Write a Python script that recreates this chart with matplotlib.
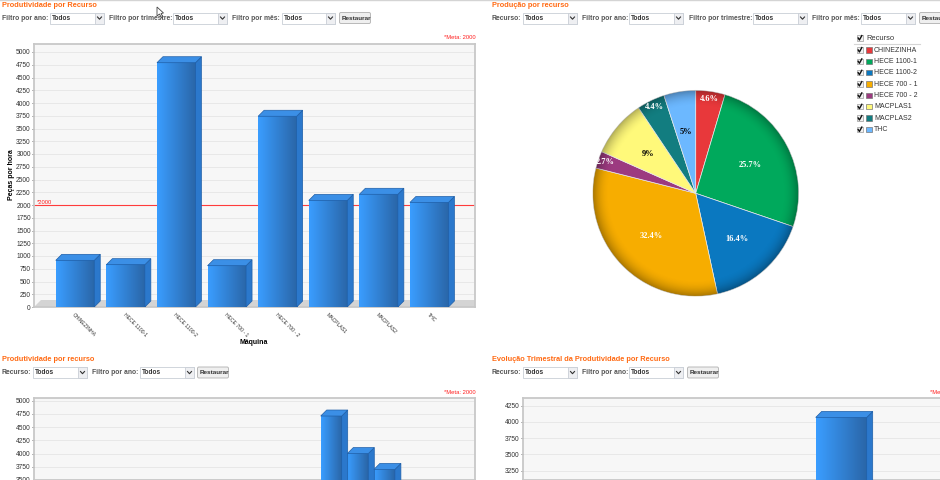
import matplotlib
matplotlib.use('Agg')
import matplotlib.pyplot as plt
import matplotlib.patches as patches
from matplotlib.colors import LinearSegmentedColormap
import numpy as np

plt.rcParams['font.family'] = ['Liberation Sans', 'DejaVu Sans']

W, H = 940, 480

# dados
maquinas = ['CHINEZINHA', 'HECE 1100-1', 'HECE 1100-2', 'HECE 700 - 1', 'HECE 700 - 2', 'MACPLAS1', 'MACPLAS2', 'THC']
produtividade = [915, 830, 4790, 810, 3740, 2090, 2210, 2050]
meta = 2000

recursos = ['CHINEZINHA', 'HECE 1100-1', 'HECE 1100-2', 'HECE 700 - 1', 'HECE 700 - 2', 'MACPLAS1', 'MACPLAS2', 'THC']
producao = [4.6, 25.7, 16.4, 32.4, 2.7, 9, 4.4, 5]
producao_labels = ['4.6%', '25.7%', '16.4%', '32.4%', '2.7%', '9%', '4.4%', '5%']
cores = ['#e8383b', '#00a95c', '#0a78c0', '#f7ad00', '#9c3a80', '#fff97a', '#127d80', '#6cb8ff']
cor_label = ['white', 'white', 'white', 'white', 'white', 'black', 'white', 'black']

prod_recurso = [4710, 4000, 3700]
evolucao = [4070]

GRAY = '#555555'
ORANGE = '#ff6a13'
grad = LinearSegmentedColormap.from_list('bar', ['#3a9dff', '#2a66a8'])


def px_axes(fig, x0, y0, x1, y1, **kw):
    """cria eixo a partir de pixels (origem no topo)"""
    return fig.add_axes([x0 / W, 1 - y1 / H, (x1 - x0) / W, (y1 - y0) / H], **kw)


def bars_3d(ax, xs, values, width, dpx=6, dpy=6):
    """barras com lateral e topo para simular 3D"""
    xlim = ax.get_xlim()
    ylim = ax.get_ylim()
    dx = dpx * (xlim[1] - xlim[0]) / ax.bbox.width
    dy = dpy * (ylim[1] - ylim[0]) / ax.bbox.height
    rects = ax.bar(xs, values, width=width, color='#3a8fe0', edgecolor='#1f5fa8', linewidth=0.6, zorder=3)
    for r in rects:
        x0 = r.get_x()
        x1 = x0 + r.get_width()
        v = r.get_height()
        ax.imshow(np.linspace(0, 1, 64).reshape(1, -1), cmap=grad, extent=(x0, x1, 0, v),
                  aspect='auto', zorder=3.1, interpolation='bilinear')
        ax.add_patch(patches.Polygon([(x1, 0), (x1 + dx, dy), (x1 + dx, v + dy), (x1, v)],
                                     facecolor='#2b78cc', edgecolor='#1f5fa8', lw=0.5, zorder=3.2))
        ax.add_patch(patches.Polygon([(x0, v), (x1, v), (x1 + dx, v + dy), (x0 + dx, v + dy)],
                                     facecolor='#3b8fe6', edgecolor='#1f5fa8', lw=0.5, zorder=3.2))
    ax.set_xlim(xlim)
    ax.set_ylim(ylim)


def style_plot(ax, ticks):
    ax.set_facecolor('#f7f7f7')
    for s in ax.spines.values():
        s.set_color('#c8c8c8')
        s.set_linewidth(1.3)
    ax.set_yticks(ticks)
    ax.tick_params(axis='y', labelsize=4.8, colors='#333333', length=1.5, pad=0.8, width=0.5)
    ax.grid(axis='y', color='#e6e6e6', lw=0.6, zorder=0)
    ax.set_axisbelow(True)


def select(ui, x0, x1, y):
    ui.add_patch(patches.Rectangle((x0, y - 5.5), x1 - x0, 11, facecolor='white', edgecolor='#c9ced6', lw=0.6))
    ui.add_patch(patches.Rectangle((x1 - 9, y - 5.5), 9, 11, facecolor='#eeeff2', edgecolor='#c9ced6', lw=0.6))
    ui.plot([x1 - 6.5, x1 - 4.5, x1 - 2.5], [y - 1, y + 1.2, y - 1], color='#333333', lw=0.8)
    ui.text(x0 + 2, y, 'Todos', fontsize=4.7, color='#333333', va='center', fontweight='bold')


def button(ui, x0, x1, y):
    ui.add_patch(patches.FancyBboxPatch((x0 + 1, y - 5), x1 - x0 - 2, 10, boxstyle='round,pad=0.5,rounding_size=1.5',
                                        facecolor='#efefef', edgecolor='#b9b9b9', lw=0.7))
    ui.text(x0 + 3, y, 'Restaurar', fontsize=4.6, color='#333333', va='center', fontweight='bold',
            clip_on=True)


def filtros(ui, y, itens, btn):
    for label, lx, sx0, sx1 in itens:
        ui.text(lx, y, label, fontsize=4.85, color=GRAY, va='center', fontweight='bold')
        select(ui, sx0, sx1, y)
    button(ui, btn[0], btn[1], y)


fig = plt.figure(figsize=(W / 100, H / 100), dpi=100, facecolor='white')

# camada de interface em pixels
ui = fig.add_axes([0, 0, 1, 1], zorder=5)
ui.set_xlim(0, W)
ui.set_ylim(H, 0)
ui.axis('off')
ui.patch.set_alpha(0)

ui.plot([0, W], [0.3, 0.3], color='#d4d4d4', lw=1)

ui.text(2, 5.5, 'Produtividade por Recurso', fontsize=5.35, color=ORANGE, fontweight='bold', va='center')
ui.text(492, 5.5, 'Produção por recurso', fontsize=5.35, color=ORANGE, fontweight='bold', va='center')
ui.text(2, 359.5, 'Produtividade por recurso', fontsize=5.35, color=ORANGE, fontweight='bold', va='center')
ui.text(492, 359.5, 'Evolução Trimestral da Produtividade por Recurso', fontsize=5.35, color=ORANGE, fontweight='bold', va='center')

filtros(ui, 18, [('Filtro por ano:', 2, 50, 104), ('Filtro por trimestre:', 109, 173, 227), ('Filtro por mês:', 232, 282, 335)], (339, 371))
filtros(ui, 18, [('Recurso:', 492, 523, 577), ('Filtro por ano:', 582, 629, 683), ('Filtro por trimestre:', 689, 753, 807), ('Filtro por mês:', 812, 861, 915)], (919, 952))
filtros(ui, 372.5, [('Recurso:', 2, 33, 87), ('Filtro por ano:', 92, 140, 194)], (197, 229))
filtros(ui, 372.5, [('Recurso:', 492, 523, 577), ('Filtro por ano:', 582, 629, 683)], (687, 719))

for x, y in [(443.5, 37.5), (443.5, 392), (930, 392)]:
    ui.text(x, y, '*Meta: 2000', fontsize=4.2, color='#ff2020', va='center')

# cursor do mouse
ui.add_patch(patches.Polygon([(157, 7), (157, 16), (159.5, 14), (161.5, 18), (163, 17), (161, 13.5), (163.5, 13)],
                             facecolor='white', edgecolor='#444444', lw=0.6))

# grafico 1 - produtividade por recurso
ax1 = px_axes(fig, 34, 44, 475, 307)
sp = 50.6
ax1.set_xlim((34 - 75) / sp, (475 - 75) / sp)
ax1.set_ylim(0, (307 - 44) / 0.051)
style_plot(ax1, np.arange(0, 5001, 250))
ax1.add_patch(patches.Polygon([(ax1.get_xlim()[0], 0), (ax1.get_xlim()[1], 0), (ax1.get_xlim()[1], 137), (ax1.get_xlim()[0] + 0.14, 137)],
                              facecolor='#d4d4d4', edgecolor='none', zorder=1))
ax1.axhline(meta, color='#ff3c3c', lw=0.8, zorder=2.5)
bars_3d(ax1, np.arange(len(maquinas)), produtividade, 38.5 / sp)
ax1.set_xticks(np.arange(len(maquinas)))
ax1.set_xticklabels(maquinas, rotation=-45, ha='left', va='top', rotation_mode='anchor', fontsize=3.7, color='#333333')
ax1.tick_params(axis='x', length=0, pad=3.5)
ui.text(36.5, 202, '*2000', fontsize=4.2, color='#ff2020', va='center')
ui.text(12, 175, 'Peças por hora', fontsize=5, fontweight='bold', rotation=90, va='center', ha='center')
ui.text(254, 342.5, 'Máquina', fontsize=5, fontweight='bold', va='center', ha='center')

# grafico 2 - pizza
cx, cy, rad = 695.7, 193.3, 103
ax2 = px_axes(fig, cx - rad - 1, cy - rad - 1, cx + rad + 1, cy + rad + 1)
wedges, _ = ax2.pie(producao, colors=cores, startangle=90, counterclock=False, radius=1,
                    wedgeprops=dict(edgecolor='#e8e8e8', linewidth=0.5))
yy, xx = np.mgrid[-1:1:300j, -1:1:300j]
rr = np.sqrt(xx ** 2 + yy ** 2)
shade = np.zeros(rr.shape + (4,))
shade[..., 3] = np.clip((rr - 0.84) / 0.16, 0, 1) ** 2 * 0.3
sh = ax2.imshow(shade, extent=(-1, 1, -1, 1), zorder=5, interpolation='bilinear')
sh.set_clip_path(patches.Circle((0, 0), 1, transform=ax2.transData))
ax2.set_xlim(-1.01, 1.01)
ax2.set_ylim(-1.01, 1.01)
total = sum(producao)
acum = 0
for v, lab, c in zip(producao, producao_labels, cor_label):
    a = np.radians(90 - (acum + v / 2) / total * 360)
    acum += v
    r = 0.93 if v < 5 else 0.6
    ax2.text(r * np.cos(a), r * np.sin(a), lab, fontsize=6, color=c, fontweight='bold',
             ha='center', va='center', zorder=6, family=['Liberation Serif', 'DejaVu Serif'])


def checkbox(ui, x, y):
    ui.add_patch(patches.Rectangle((x, y - 2.8), 5.6, 5.6, facecolor='#f2f2f2', edgecolor='#9a9a9a', lw=0.5))
    ui.plot([x + 1.2, x + 2.4, x + 4.8], [y, y + 2, y - 2.4], color='#111111', lw=1)


# legenda
checkbox(ui, 857, 38)
ui.text(866.5, 38, 'Recurso', fontsize=5.4, color='#333333', va='center')
ui.plot([854, 920], [44, 44], color='#d5d5d5', lw=0.8)
leg_y = [50, 61.3, 72.7, 84, 95.3, 106.7, 118, 129.5]
for nome, c, y in zip(recursos, cores, leg_y):
    checkbox(ui, 857, y)
    ui.add_patch(patches.Rectangle((866.3, y - 2.8), 6, 5.6, facecolor=c, edgecolor='#777777', lw=0.5))
    ui.text(874, y, nome, fontsize=5, color='#333333', va='center')

# grafico 3 - cortado na parte de baixo
ax3 = px_axes(fig, 34, 398, 475, H)
sp3 = 26.6
ax3.set_xlim((34 - 331.2) / sp3, (475 - 331.2) / sp3)
esc3 = 0.0533
ax3.set_ylim(5000 - (480 - 400.7) / esc3, 5000 + (400.7 - 398) / esc3)
style_plot(ax3, np.arange(3500, 5001, 250))
bars_3d(ax3, np.arange(len(prod_recurso)), prod_recurso, 21 / sp3)

# grafico 4 - cortado embaixo e a direita
ax4 = px_axes(fig, 523, 398, W, H)
ax4.set_xlim(523 - 841.2, W - 841.2)
esc4 = 0.065
ax4.set_ylim(4250 - (480 - 405.7) / esc4, 4250 + (405.7 - 398) / esc4)
style_plot(ax4, np.arange(3250, 4251, 250))
ax4.spines['right'].set_visible(False)
bars_3d(ax4, np.arange(len(evolucao)), evolucao, 51)

for a in (ax3, ax4):
    a.set_xticks([])

fig.savefig('out.png', dpi=100)
